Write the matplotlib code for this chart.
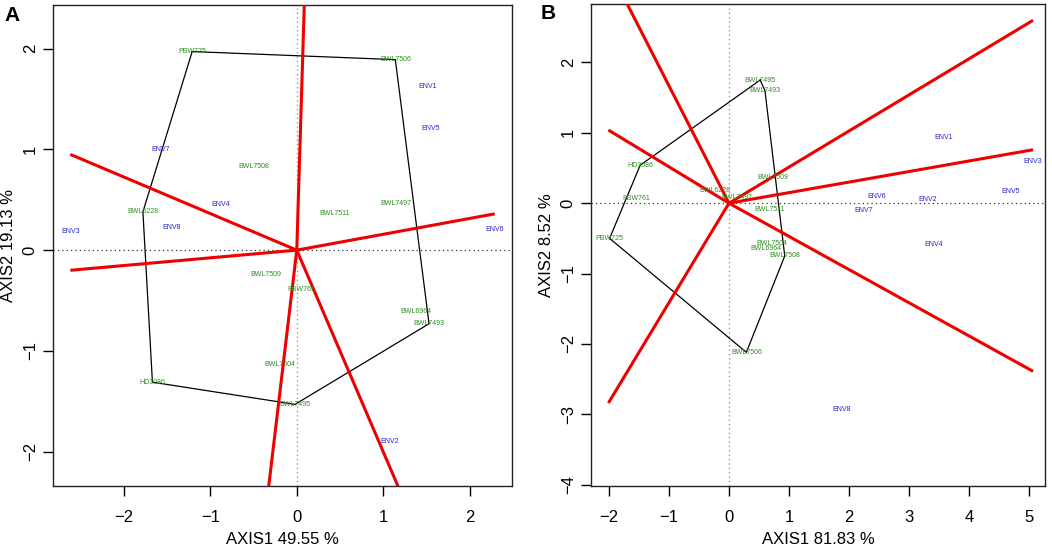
import numpy as np
import matplotlib
matplotlib.use("Agg")
import matplotlib.pyplot as plt

plt.rcParams['font.family'] = ['Liberation Sans', 'DejaVu Sans']

# ---- panel A data ----
gen_a = ["PBW725", "BWL7506", "BWL7508", "BWL7511", "BWL7497", "BWL5228", "BWL7509",
         "PBW761", "BWL6964", "BWL7493", "BWL7504", "HD3086", "BWL7495"]
gen_a_x = [-1.21, 1.14, -0.50, 0.44, 1.15, -1.78, -0.36, 0.05, 1.38, 1.53, -0.20, -1.67, -0.02]
gen_a_y = [1.97, 1.89, 0.83, 0.36, 0.46, 0.38, -0.24, -0.39, -0.61, -0.73, -1.13, -1.31, -1.53]
env_a = ["ENV1", "ENV5", "ENV7", "ENV4", "ENV8", "ENV3", "ENV6", "ENV2"]
env_a_x = [1.51, 1.55, -1.58, -0.88, -1.45, -2.62, 2.29, 1.07]
env_a_y = [1.62, 1.21, 1.00, 0.45, 0.22, 0.18, 0.20, -1.90]
hull_a = ["PBW725", "BWL7506", "BWL7493", "BWL7495", "HD3086", "BWL5228"]
ray_a_x = [0.10, -2.62, -2.62, 2.29, -0.36, 1.30]
ray_a_y = [2.80, 0.95, -0.20, 0.36, -2.60, -2.60]

# ---- panel B data ----
gen_b = ["BWL7495", "BWL7493", "HD3086", "BWL7509", "BWL6228", "BWL7497", "PBW761",
         "BWL7511", "PBW725", "BWL7504", "BWL6964", "BWL7508", "BWL7506"]
gen_b_x = [0.52, 0.60, -1.48, 0.74, -0.23, 0.13, -1.54, 0.67, -1.99, 0.72, 0.61, 0.93, 0.29]
gen_b_y = [1.75, 1.60, 0.54, 0.37, 0.18, 0.08, 0.06, -0.09, -0.50, -0.57, -0.64, -0.75, -2.12]
env_b = ["ENV1", "ENV3", "ENV5", "ENV6", "ENV2", "ENV7", "ENV4", "ENV8"]
env_b_x = [3.58, 5.06, 4.70, 2.47, 3.31, 2.24, 3.41, 1.87]
env_b_y = [0.94, 0.59, 0.16, 0.09, 0.05, -0.10, -0.58, -2.93]
hull_b = ["BWL7495", "BWL7493", "BWL7508", "BWL7506", "PBW725", "HD3086"]
ray_b_x = [-1.75, 5.07, 5.07, -2.01, 5.07, -2.01]
ray_b_y = [2.92, 2.60, 0.76, 1.04, -2.39, -2.84]


def biplot(ax, gen, gx, gy, env, ex, ey, hull, rx, ry, xlim, ylim, xticks, yticks, xlab, ylab):
    ax.axhline(0, color="#333333", lw=0.9, ls=(0, (1, 2.5)), zorder=1)
    ax.axvline(0, color="#888888", lw=0.9, ls=(0, (1, 2.5)), zorder=1)
    idx = [gen.index(g) for g in hull] + [gen.index(hull[0])]
    ax.plot([gx[i] for i in idx], [gy[i] for i in idx], color="black", lw=0.9, zorder=2)
    for x, y in zip(rx, ry):
        ax.plot([0, x], [0, y], color="#ee0000", lw=2.2, zorder=3, solid_capstyle="butt")
    for name, x, y in zip(gen, gx, gy):
        ax.text(x, y, name, color="#2e8b22", fontsize=5.0, ha="center", va="center", zorder=4)
    for name, x, y in zip(env, ex, ey):
        ax.text(x, y, name, color="#2222cc", fontsize=5.0, ha="center", va="center", zorder=4)
    ax.set_xlim(*xlim)
    ax.set_ylim(*ylim)
    ax.set_xticks(xticks)
    ax.set_yticks(yticks)
    ax.set_xticklabels(["\u2212%d" % -t if t < 0 else "%d" % t for t in xticks])
    ax.set_yticklabels(["\u2212%d" % -t if t < 0 else "%d" % t for t in yticks],
                       rotation=90, va="center")
    ax.tick_params(direction="out", length=7, width=1, labelsize=12)
    ax.tick_params(axis="x", pad=10)
    ax.tick_params(axis="y", pad=4)
    for s in ax.spines.values():
        s.set_linewidth(1)
        s.set_color("#222222")
    ax.set_xlabel(xlab, fontsize=12, labelpad=5)
    ax.set_ylabel(ylab, fontsize=12, labelpad=5)


fig = plt.figure(figsize=(10.52, 5.47), dpi=100)
ax_a = fig.add_axes([0.0504, 0.1115, 0.4363, 0.879])
ax_b = fig.add_axes([0.5618, 0.1115, 0.4316, 0.881])

biplot(ax_a, gen_a, gen_a_x, gen_a_y, env_a, env_a_x, env_a_y, hull_a, ray_a_x, ray_a_y,
       (-2.82, 2.49), (-2.34, 2.43), [-2, -1, 0, 1, 2], [-2, -1, 0, 1, 2],
       "AXIS1 49.55 %", "AXIS2 19.13 %")
biplot(ax_b, gen_b, gen_b_x, gen_b_y, env_b, env_b_x, env_b_y, hull_b, ray_b_x, ray_b_y,
       (-2.30, 5.27), (-4.02, 2.83), [-2, -1, 0, 1, 2, 3, 4, 5], [-4, -3, -2, -1, 0, 1, 2],
       "AXIS1 81.83 %", "AXIS2 8.52 %")

fig.text(0.004, 0.971, "A", fontsize=15, fontweight="bold", ha="left", va="center")
fig.text(0.514, 0.975, "B", fontsize=15, fontweight="bold", ha="left", va="center")

fig.savefig("out.png", dpi=100)
